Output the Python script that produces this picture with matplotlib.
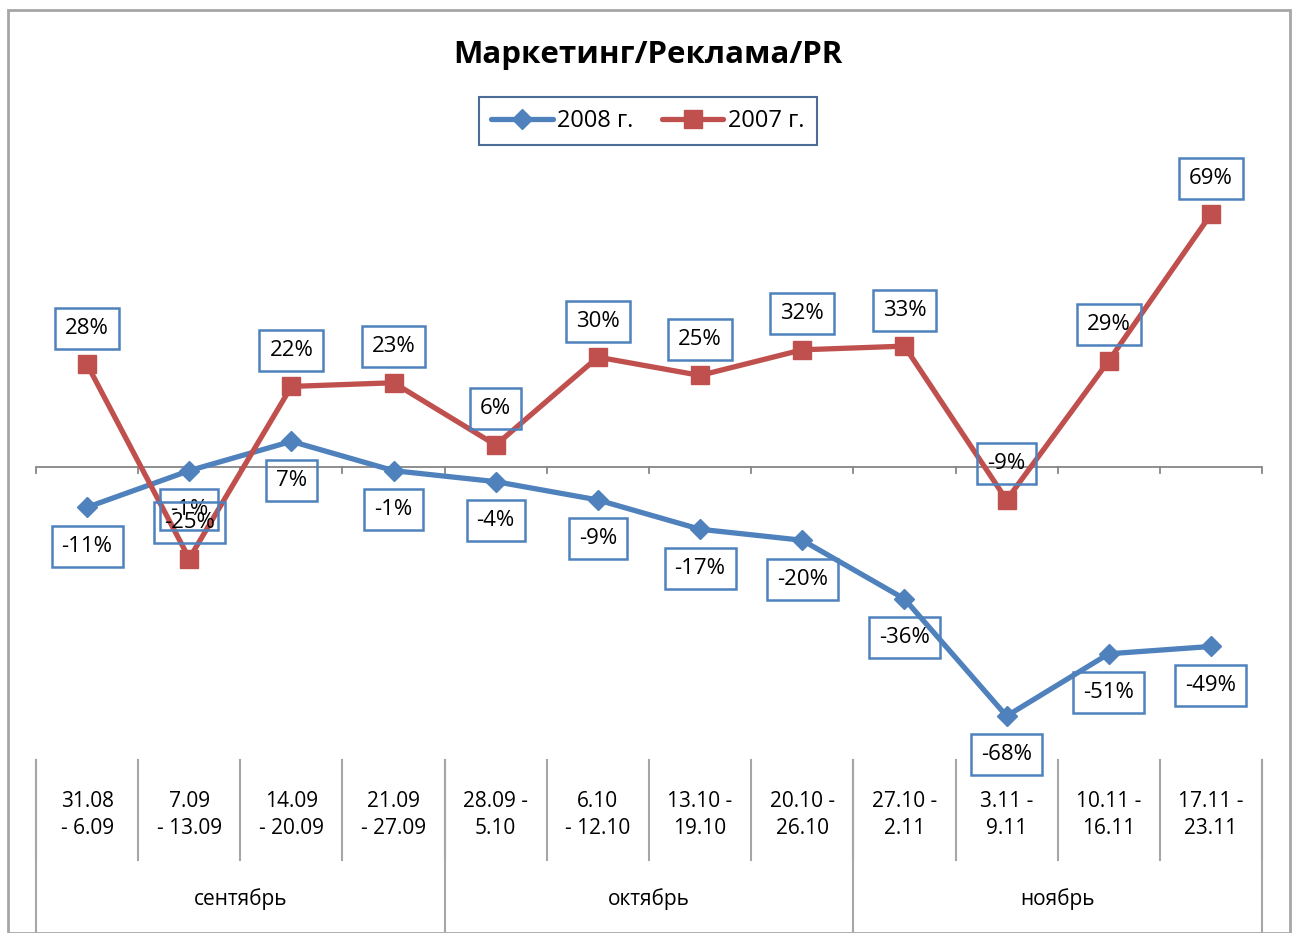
import matplotlib
matplotlib.use("Agg")
import matplotlib.pyplot as plt
from matplotlib.patches import Rectangle
from matplotlib.lines import Line2D
import matplotlib.transforms as mtransforms

plt.rcParams['font.family'] = ['Open Sans', 'DejaVu Sans']

title = "Маркетинг/Реклама/PR"
weeks = ["31.08\n- 6.09", "7.09\n- 13.09", "14.09\n- 20.09", "21.09\n- 27.09",
         "28.09 -\n5.10", "6.10\n- 12.10", "13.10 -\n19.10", "20.10 -\n26.10",
         "27.10 -\n2.11", "3.11 -\n9.11", "10.11 -\n16.11", "17.11 -\n23.11"]
months = ["сентябрь", "октябрь", "ноябрь"]
month_weeks = [4, 4, 4]
s2008 = [-11, -1, 7, -1, -4, -9, -17, -20, -36, -68, -51, -49]
s2007 = [28, -25, 22, 23, 6, 30, 25, 32, 33, -9, 29, 69]
names = ["2008 г.", "2007 г."]

W, H = 1297, 933
fig = plt.figure(figsize=(W / 100, H / 100), dpi=100)
fig.patch.set_facecolor('white')

# outer chart border
fig.patches.append(Rectangle((8 / W, 0), (1290 - 8) / W, (H - 10) / H,
                             transform=fig.transFigure, fill=False,
                             edgecolor='#A6A6A6', lw=2))

ax_left, ax_right = 36, 1262
ax_top, ax_bottom = 174, 760
ax = fig.add_axes([ax_left / W, 1 - ax_bottom / H, (ax_right - ax_left) / W,
                   (ax_bottom - ax_top) / H])
ax.set_xlim(-0.5, len(weeks) - 0.5)
ax.set_ylim(-80, 80)
ax.axis('off')

blue = '#4F81BD'
red = '#C0504D'
grey = '#868686'

# zero axis with downward ticks
ax.axhline(0, color=grey, lw=1.3, zorder=1)
tick_len = 6 / (ax_bottom - ax_top)
bt = mtransforms.blended_transform_factory(ax.transData, ax.transAxes)
zero_ax = 80 / 160
for i in range(len(weeks) + 1):
    ax.add_line(Line2D([i - 0.5, i - 0.5], [zero_ax, zero_ax - tick_len],
                       transform=bt, color=grey, lw=1.3, clip_on=False))

x = list(range(len(weeks)))
ax.plot(x, s2008, color=blue, lw=3.8, marker='D', ms=10, zorder=3, label=names[0],
        solid_joinstyle='round', solid_capstyle='round')
ax.plot(x, s2007, color=red, lw=3.8, marker='s', ms=13, zorder=3, label=names[1],
        solid_joinstyle='round', solid_capstyle='round')

box = dict(boxstyle='square,pad=0.45', fc='none', ec=blue, lw=1.8)
for xi, v in zip(x, s2008):
    ax.annotate(f"{v}%", (xi, v), xytext=(0, -28), textcoords='offset points',
                ha='center', va='center', fontsize=16, bbox=box, zorder=4)
for xi, v in zip(x, s2007):
    ax.annotate(f"{v}%", (xi, v), xytext=(0, 26), textcoords='offset points',
                ha='center', va='center', fontsize=16, bbox=box, zorder=4)

# category axis (multi-level)
px = 1 / (ax_bottom - ax_top)
for i in range(len(weeks) + 1):
    ax.add_line(Line2D([i - 0.5, i - 0.5], [0, -100 * px], transform=bt,
                       color='#A6A6A6', lw=1.5, clip_on=False))
for xi, lab in zip(x, weeks):
    ax.text(xi, -55 * px, lab, transform=bt, ha='center', va='center',
            fontsize=15, linespacing=1.4)
start = 0
bounds = [start]
for n in month_weeks:
    start += n
    bounds.append(start)
for b in bounds:
    ax.add_line(Line2D([b - 0.5, b - 0.5], [0, -172 * px], transform=bt,
                       color='#A6A6A6', lw=1.5, clip_on=False))
for m, a, b in zip(months, bounds[:-1], bounds[1:]):
    ax.text((a + b - 1) / 2, -139 * px, m, transform=bt, ha='center',
            va='center', fontsize=15)

fig.text(648 / W, 1 - 55 / H, title, ha='center', va='center',
         fontsize=22.5, fontweight='bold')

leg = fig.legend(loc='center', bbox_to_anchor=(648 / W, 1 - 121 / H), ncol=2,
                 fontsize=17, frameon=True, fancybox=False, handlelength=2.6,
                 columnspacing=1.2, handletextpad=0.2, borderpad=0.5)
leg.get_frame().set_edgecolor('#1F497D')
leg.get_frame().set_linewidth(1.5)

fig.savefig('out.png', dpi=100)
